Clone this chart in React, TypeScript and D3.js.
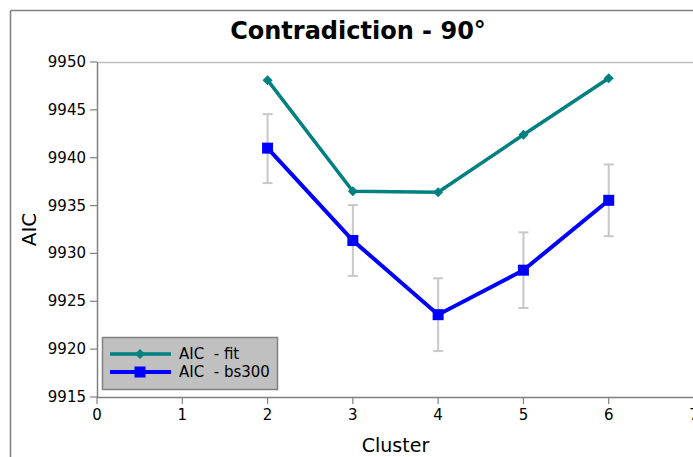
import React from "react";
import * as d3 from "d3";

const clusters = [2, 3, 4, 5, 6];
const aicFit = [9948.1, 9936.5, 9936.4, 9942.4, 9948.3];
const aicBs300 = [9941.0, 9931.35, 9923.6, 9928.25, 9935.55];
const bsErrLow = [9937.35, 9927.65, 9919.8, 9924.3, 9931.8];
const bsErrHigh = [9944.55, 9935.05, 9927.4, 9932.2, 9939.3];
const xTicks = [0, 1, 2, 3, 4, 5, 6, 7];
const yTicks = [9915, 9920, 9925, 9930, 9935, 9940, 9945, 9950];
const seriesNames = ["AIC  - fit", "AIC  - bs300"];

const W = 693;
const H = 457;
const L = 97, R = 694, T = 62, B = 397;
const FONT = "DejaVu Sans, sans-serif";

export default function App() {
  const x = d3.scaleLinear().domain([0, 7]).range([L, R]);
  const y = d3.scaleLinear().domain([9915, 9950]).range([B, T]);
  const line = d3
    .line<[number, number]>()
    .x((d) => x(d[0]))
    .y((d) => y(d[1]));
  const fitPts = clusters.map((c, i) => [c, aicFit[i]] as [number, number]);
  const bsPts = clusters.map((c, i) => [c, aicBs300[i]] as [number, number]);
  const diamond = (cx: number, cy: number, r: number) =>
    `M${cx},${cy - r}L${cx + r},${cy}L${cx},${cy + r}L${cx - r},${cy}Z`;

  return (
    <svg
      width={W}
      height={H}
      style={{ position: "absolute", left: 0, top: 0, display: "block" }}
      fontFamily={FONT}
    >
      <rect x={0} y={0} width={W} height={H} fill="#fff" />
      {/* outer frame */}
      <line x1={10.5} y1={10.5} x2={W} y2={10.5} stroke="#808080" strokeWidth={1.5} />
      <line x1={10.5} y1={10.5} x2={10.5} y2={H} stroke="#808080" strokeWidth={1.5} />
      {/* title */}
      <text x={358} y={39} textAnchor="middle" fontSize={24} fontWeight="bold" fill="#000">
        Contradiction - 90°
      </text>
      {/* top plot border */}
      <line x1={L} y1={T + 0.5} x2={W} y2={T + 0.5} stroke="#c0c0c0" strokeWidth={1.5} />
      {/* y axis */}
      <line x1={L + 0.5} y1={T} x2={L + 0.5} y2={B} stroke="#808080" strokeWidth={1.5} />
      {yTicks.map((t) => (
        <g key={"y" + t}>
          <line x1={L - 7} y1={y(t)} x2={L} y2={y(t)} stroke="#808080" strokeWidth={1.2} />
          <text x={L - 11} y={y(t) + 5} textAnchor="end" fontSize={15} fill="#000">
            {t}
          </text>
        </g>
      ))}
      {/* x axis */}
      <line x1={L} y1={B + 0.5} x2={W} y2={B + 0.5} stroke="#808080" strokeWidth={1.5} />
      {xTicks.map((t) => (
        <g key={"x" + t}>
          <line x1={x(t)} y1={B} x2={x(t)} y2={B + 7} stroke="#808080" strokeWidth={1.2} />
          <text x={x(t)} y={B + 23} textAnchor="middle" fontSize={15} fill="#000">
            {t}
          </text>
        </g>
      ))}
      {/* axis labels */}
      <text
        transform={`translate(36,${(T + B) / 2}) rotate(-90)`}
        textAnchor="middle"
        fontSize={20}
        fill="#000"
      >
        AIC
      </text>
      <text x={(L + R) / 2} y={452} textAnchor="middle" fontSize={19} fill="#000">
        Cluster
      </text>
      {/* error bars */}
      {clusters.map((c, i) => (
        <g key={"e" + c} stroke="#c8c8c8" strokeWidth={2}>
          <line x1={x(c)} y1={y(bsErrLow[i])} x2={x(c)} y2={y(bsErrHigh[i])} />
          <line x1={x(c) - 5} y1={y(bsErrLow[i])} x2={x(c) + 5} y2={y(bsErrLow[i])} />
          <line x1={x(c) - 5} y1={y(bsErrHigh[i])} x2={x(c) + 5} y2={y(bsErrHigh[i])} />
        </g>
      ))}
      {/* fit line */}
      <path d={line(fitPts) || ""} fill="none" stroke="#008080" strokeWidth={3.5} />
      {fitPts.map((p, i) => (
        <path key={"fd" + i} d={diamond(x(p[0]), y(p[1]), 5)} fill="#008080" />
      ))}
      {/* bs300 line */}
      <path d={line(bsPts) || ""} fill="none" stroke="#0000ff" strokeWidth={4} />
      {bsPts.map((p, i) => (
        <rect
          key={"bs" + i}
          x={x(p[0]) - 5.5}
          y={y(p[1]) - 5.5}
          width={11}
          height={11}
          fill="#0000ff"
        />
      ))}
      {/* legend */}
      <rect x={102.5} y={337.5} width={175} height={52} fill="#c0c0c0" stroke="#808080" strokeWidth={1.5} />
      <line x1={110} y1={354} x2={171} y2={354} stroke="#008080" strokeWidth={3.5} />
      <path d={diamond(140, 354, 5)} fill="#008080" />
      <text x={179} y={359} fontSize={15} fill="#000" style={{ whiteSpace: "pre" }}>
        {seriesNames[0]}
      </text>
      <line x1={110} y1={372} x2={171} y2={372} stroke="#0000ff" strokeWidth={4} />
      <rect x={134.5} y={366.5} width={11} height={11} fill="#0000ff" />
      <text x={179} y={377} fontSize={15} fill="#000" style={{ whiteSpace: "pre" }}>
        {seriesNames[1]}
      </text>
    </svg>
  );
}
